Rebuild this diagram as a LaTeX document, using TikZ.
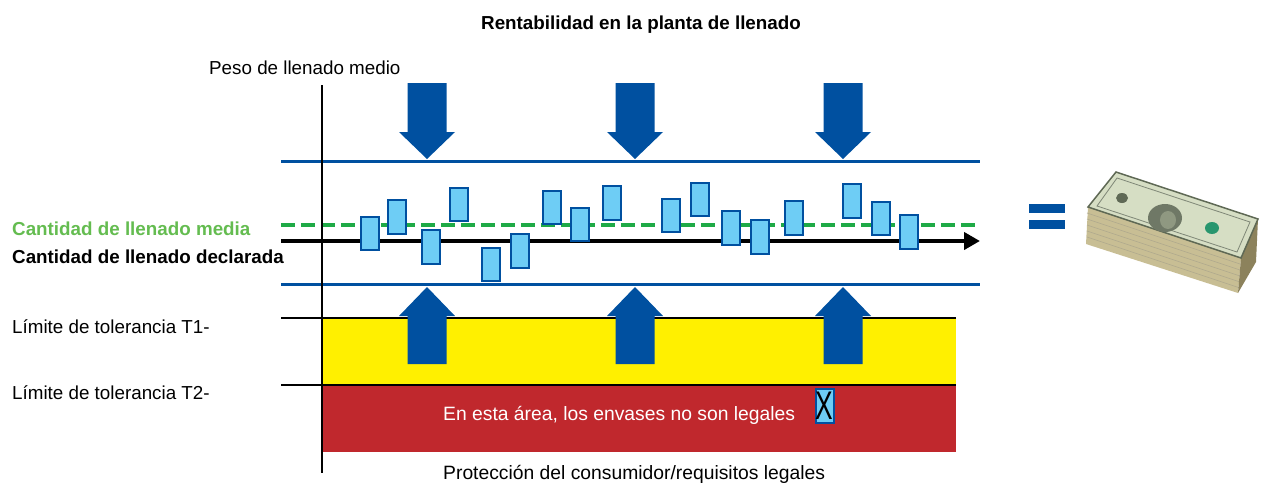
\documentclass[tikz,border=0pt]{standalone}
\usepackage{fontspec}
\setmainfont{Liberation Sans}
\usetikzlibrary{arrows.meta}
\definecolor{mtblue}{RGB}{0,80,160}
\definecolor{boxfill}{RGB}{110,205,245}
\definecolor{dashgreen}{RGB}{30,170,70}
\definecolor{labgreen}{RGB}{100,188,80}
\definecolor{tolyellow}{RGB}{255,240,0}
\definecolor{illred}{RGB}{192,40,45}
\definecolor{billtop}{RGB}{214,222,196}
\definecolor{billedge}{RGB}{95,105,85}
\definecolor{billside}{RGB}{200,190,148}
\definecolor{billdark}{RGB}{140,130,92}
\definecolor{sealgreen}{RGB}{40,150,110}
\begin{document}
\begin{tikzpicture}[x=1pt,y=-1pt,
  lbl/.style={anchor=base west,inner sep=0,font=\fontsize{18.8}{20}\selectfont},
  lblw/.style={anchor=base west,inner sep=0,font=\fontsize{19.3}{20}\selectfont},
  lblb/.style={lbl,font=\fontsize{18.8}{20}\selectfont\bfseries},
  fillbox/.style={draw=mtblue,fill=boxfill,line width=2pt,minimum width=18pt,minimum height=33.5pt,inner sep=0,outer sep=0},
  blueline/.style={mtblue,line width=3pt},
  tolline/.style={black,line width=2pt},
  downarr/.pic={\fill[mtblue] (-19.5,-76) -- (19.5,-76) -- (19.5,-27) -- (28,-27) -- (0,0) -- (-28,-27) -- (-19.5,-27) -- cycle;},
  uparr/.pic={\fill[mtblue] (-19.5,77) -- (19.5,77) -- (19.5,29) -- (28,29) -- (0,0) -- (-28,29) -- (-19.5,29) -- cycle;}
]
\useasboundingbox (0,0) rectangle (1270,483);

% title and axis label
\node[lblb,anchor=base] (title) at (641,29) {Rentabilidad en la planta de llenado};
\node[lbl] (peso) at (209,74) {Peso de llenado medio};

% tolerance zones
\fill[tolyellow] (322,318) rectangle (956,385);
\fill[illred] (322,385) rectangle (956,452);
\coordinate (t1a) at (281,318); \coordinate (t1b) at (956,318);
\coordinate (t2a) at (281,385); \coordinate (t2b) at (956,385);
\draw[tolline] (t1a) -- (t1b);
\draw[tolline] (t2a) -- (t2b);

% horizontal lines
\coordinate (ua) at (281,161); \coordinate (ub) at (980,161);
\coordinate (la) at (281,284); \coordinate (lb) at (980,284);
\coordinate (ma) at (281,225); \coordinate (mb) at (980,225);
\coordinate (da) at (281,241); \coordinate (db) at (980,241);
\draw[blueline] (ua) -- (ub);
\draw[blueline] (la) -- (lb);
\draw[dashgreen,line width=3.5pt,dash pattern=on 14pt off 6pt] (ma) -- (mb);
\draw[black,line width=4pt,-{Triangle[length=16pt,width=17pt]}] (da) -- (db);

% axis
\coordinate (axt) at (322,85); \coordinate (axb) at (322,473);
\draw[black,line width=2pt] (axt) -- (axb);

% arrows
\pic at (427,159) {downarr};
\pic at (635,159) {downarr};
\pic at (843,159) {downarr};
\pic at (427,287) {uparr};
\pic at (635,287) {uparr};
\pic at (843,287) {uparr};

% fill boxes
\node[fillbox] (b1) at (370,233.3) {};
\node[fillbox] (b2) at (397,217) {};
\node[fillbox] (b3) at (431,247) {};
\node[fillbox] (b4) at (459,204.5) {};
\node[fillbox] (b5) at (491,264.5) {};
\node[fillbox] (b6) at (519.5,251) {};
\node[fillbox] (b7) at (552,207.5) {};
\node[fillbox] (b8) at (580,224.5) {};
\node[fillbox] (b9) at (612,203) {};
\node[fillbox] (b10) at (671,215.5) {};
\node[fillbox] (b11) at (699.5,199.5) {};
\node[fillbox] (b12) at (731,228) {};
\node[fillbox] (b13) at (760,237) {};
\node[fillbox] (b14) at (794,218) {};
\node[fillbox] (b15) at (852,201) {};
\node[fillbox] (b16) at (881,218.5) {};
\node[fillbox] (b17) at (909,232) {};

% labels left
\node[lblb,text=labgreen] (media) at (12,235) {Cantidad de llenado media};
\node[lblb] (decl) at (12,263) {Cantidad de llenado declarada};
\node[lbl] (tol1) at (12,333) {Límite de tolerancia T1-};
\node[lbl] (tol2) at (12,399) {Límite de tolerancia T2-};

% red zone text
\node[lblw,text=white] (illegal) at (443,420) {En esta área, los envases no son legales};
\node[fillbox,minimum height=34pt] (xbox) at (824.5,406) {\scalebox{0.66}[1]{\fontsize{40}{40}\selectfont X}};
\node[lblw] (prot) at (443,479) {Protección del consumidor/requisitos legales};

% equals sign
\fill[mtblue] (1029,204) rectangle (1065,213);
\fill[mtblue] (1029,220) rectangle (1065,229);

% money stack
\fill[billside] (1088,207) -- (1241,258) -- (1238,293) -- (1086,244) -- cycle;
\foreach \d in {6,12,18,24,30}
  \draw[billdark!70,line width=0.6pt] (1087,207+\d) -- (1240,258+\d);
\fill[billdark] (1241,258) -- (1258,219) -- (1256,262) -- (1238,293) -- cycle;
\filldraw[fill=billtop,draw=billedge,line width=1.5pt] (1116,172) -- (1258,219) -- (1241,258) -- (1088,207) -- cycle;
\draw[billedge!80,line width=0.8pt] (1117,178) -- (1250,222) -- (1237,252) -- (1097,206) -- cycle;
\fill[billedge!90] (1165,218) ellipse (17pt and 14pt);
\fill[billtop!40!billedge] (1168,220) ellipse (8pt and 9pt);
\fill[billedge] (1122,198) ellipse (6pt and 5pt);
\fill[sealgreen] (1212,228) ellipse (7pt and 6pt);
\end{tikzpicture}
\end{document}
